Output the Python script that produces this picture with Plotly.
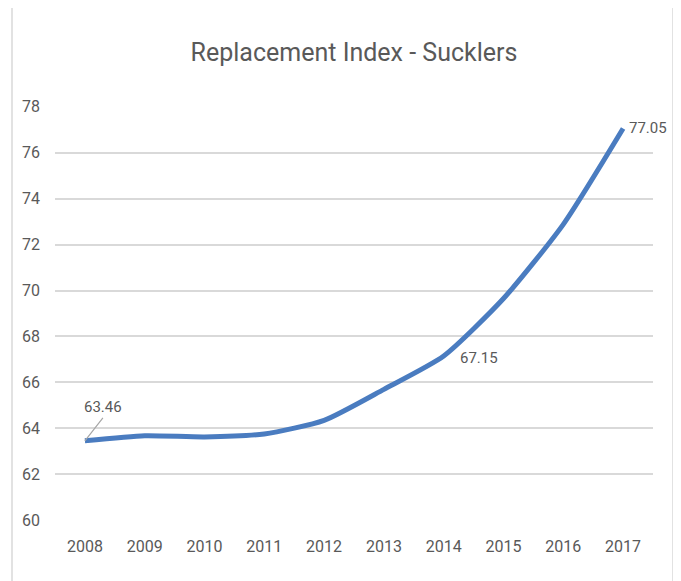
import plotly.graph_objects as go

years = [2008, 2009, 2010, 2011, 2012, 2013, 2014, 2015, 2016, 2017]
index_values = [63.46, 63.68, 63.63, 63.76, 64.35, 65.70, 67.15, 69.65, 72.88, 77.05]
labelled_years = [2008, 2014, 2017]
labelled_values = [63.46, 67.15, 77.05]
y_ticks = [60, 62, 64, 66, 68, 70, 72, 74, 76, 78]

FONT = "Roboto, Liberation Sans, sans-serif"
GRAY = "#595959"

# the page body has an 8px default margin; size/margins compensate so the
# chart lands where it sits in the 681x581 reference
W, H = 673, 573

fig = go.Figure()
fig.add_trace(go.Scatter(
    x=years, y=index_values, mode="lines",
    line=dict(color="#4A7CC0", width=5, shape="spline", smoothing=0.6),
    hoverinfo="x+y", showlegend=False,
))

label_cfg = {
    2008: dict(showarrow=True, arrowhead=0, arrowwidth=1.2, arrowcolor="#A6A6A6",
               ax=18, ay=-23, xanchor="center", yanchor="bottom"),
    2014: dict(showarrow=False, xanchor="left", yanchor="middle", xshift=14, yshift=-2),
    2017: dict(showarrow=False, xanchor="left", yanchor="middle", xshift=4, yshift=1),
}
for yr, val in zip(labelled_years, labelled_values):
    fig.add_annotation(x=yr, y=val, xref="x", yref="y", text=f"{val:.2f}",
                       font=dict(family=FONT, size=15, color=GRAY),
                       **label_cfg[yr])

ml, mr, mt, mb = 47, 28, 98, 60
pw, ph = W - ml - mr, H - mt - mb

fig.update_layout(
    width=W, height=H,
    margin=dict(l=ml, r=mr, t=mt, b=mb),
    paper_bgcolor="white", plot_bgcolor="white",
    title=dict(text="Replacement Index - Sucklers", x=0.5, xref="paper", xanchor="center",
               y=(H - 44) / H, yref="container", yanchor="middle",
               font=dict(family=FONT, size=25, color=GRAY)),
    xaxis=dict(range=[2007.5, 2017.5], tickvals=years, showgrid=False, zeroline=False,
               showline=False, ticks="", tickfont=dict(family=FONT, size=16, color=GRAY),
               ticklabelstandoff=14),
    yaxis=dict(range=[59.97, 78.03], tickvals=y_ticks, showgrid=True, gridcolor="#D9D9D9",
               gridwidth=1.5, zeroline=False, showline=False, ticks="",
               tickfont=dict(family=FONT, size=16, color=GRAY), ticklabelstandoff=14),
    shapes=[dict(type="rect", xref="paper", yref="paper",
                 x0=(4 - ml) / pw, x1=(665 - ml) / pw,
                 y0=-0.3, y1=(H - mb + 1) / ph,
                 line=dict(color="#D9D9D9", width=1.5), fillcolor="rgba(0,0,0,0)",
                 layer="below")],
)

fig.write_html("out.html")
